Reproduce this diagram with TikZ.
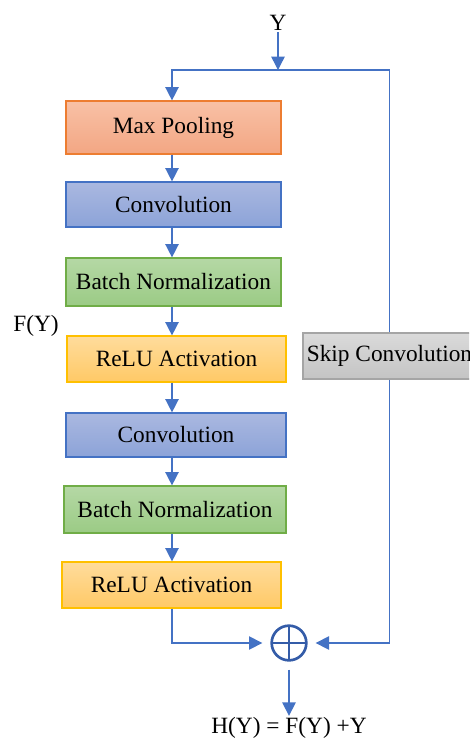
\documentclass[tikz,border=0pt]{standalone}
\usepackage{fontspec}
\setmainfont{Liberation Serif}
\usetikzlibrary{arrows.meta,calc,positioning}
\definecolor{link}{RGB}{68,114,196}
\definecolor{sumc}{RGB}{52,92,168}
\definecolor{poolline}{RGB}{237,125,49}
\definecolor{pooltop}{RGB}{248,193,166}
\definecolor{poolbot}{RGB}{243,166,131}
\definecolor{convline}{RGB}{68,114,196}
\definecolor{convtop}{RGB}{170,184,224}
\definecolor{convbot}{RGB}{140,163,216}
\definecolor{normline}{RGB}{112,173,71}
\definecolor{normtop}{RGB}{181,216,165}
\definecolor{normbot}{RGB}{155,203,133}
\definecolor{reluline}{RGB}{255,192,0}
\definecolor{relutop}{RGB}{255,220,156}
\definecolor{relubot}{RGB}{255,201,102}
\definecolor{skipline}{RGB}{165,165,165}
\definecolor{skiptop}{RGB}{218,218,218}
\definecolor{skipbot}{RGB}{196,196,196}
\newcommand{\blkfont}{\fontsize{17.5}{20}\selectfont}

\begin{document}
\begin{tikzpicture}[x=0.75pt,y=-0.75pt,>={Triangle[length=10pt,width=10pt]},
  blk/.style={draw,line width=0.9pt,inner sep=0pt,text=black,font=\blkfont},
  poolbox/.style={blk,draw=poolline,top color=pooltop,bottom color=poolbot},
  convbox/.style={blk,draw=convline,top color=convtop,bottom color=convbot},
  normbox/.style={blk,draw=normline,top color=normtop,bottom color=normbot},
  relubox/.style={blk,draw=reluline,top color=relutop,bottom color=relubot},
  skipbox/.style={blk,draw=skipline,top color=skiptop,bottom color=skipbot},
  lbl/.style={inner sep=1pt,font=\blkfont},
  lnk/.style={draw=link,line width=1.1pt},
  arr/.style={lnk,->}]
  \useasboundingbox (0,0) rectangle (469,740);
  \clip (0,0) rectangle (469,740);

  \node[lbl] (y) at (278,23) {Y};
  \coordinate (split) at (278,70);
  \coordinate (spine) at (172,0);

  \node[poolbox,minimum width=161.25pt,minimum height=39.75pt] (mp) at (173.5,127.5) {Max Pooling};
  \node[convbox,minimum width=161.25pt,minimum height=33.75pt] (conv1) at (173.5,204.5) {Convolution};
  \node[normbox,minimum width=161.25pt,minimum height=36pt] (bn1) at (173.5,282) {Batch Normalization};
  \node[relubox,minimum width=164.25pt,minimum height=34.5pt] (relu1) at (176.5,359) {ReLU Activation};
  \node[convbox,minimum width=165pt,minimum height=33pt] (conv2) at (176,435) {Convolution};
  \node[normbox,minimum width=166.5pt,minimum height=35.25pt] (bn2) at (175,509.5) {Batch Normalization};
  \node[relubox,minimum width=164.25pt,minimum height=34.5pt] (relu2) at (171.5,585) {ReLU Activation};
  \node[skipbox,minimum width=129.75pt,minimum height=34.5pt] (skip) at (389.5,356) {Skip Convolution};

  \node[lbl] (fy) at (36,326) {F(Y)};
  \node[circle,draw=sumc,line width=2pt,minimum size=26pt,inner sep=0pt,outer sep=7pt] (sum) at (289,643) {};
  \draw[sumc,line width=2pt] (sum.center) ++(0,-17) -- ++(0,34)
                             (sum.center) ++(-17,0) -- ++(34,0);
  \node[lbl] (out) at (289,728) {H(Y) = F(Y) +Y};

  \draw[arr] (y) -- (split);
  \draw[arr] (split) -| (mp.north -| spine);
  \draw[lnk] (split) -| (skip.north);
  \draw[arr] (mp.south -| spine) -- (conv1.north -| spine);
  \draw[arr] (conv1.south -| spine) -- (bn1.north -| spine);
  \draw[arr] (bn1.south -| spine) -- (relu1.north -| spine);
  \draw[arr] (relu1.south -| spine) -- (conv2.north -| spine);
  \draw[arr] (conv2.south -| spine) -- (bn2.north -| spine);
  \draw[arr] (bn2.south -| spine) -- (relu2.north -| spine);
  \draw[arr] (relu2.south -| spine) |- (sum.west);
  \draw[arr] (skip.south) |- (sum.east);
  \draw[arr] (sum.south) -- (out.north);
\end{tikzpicture}
\end{document}
